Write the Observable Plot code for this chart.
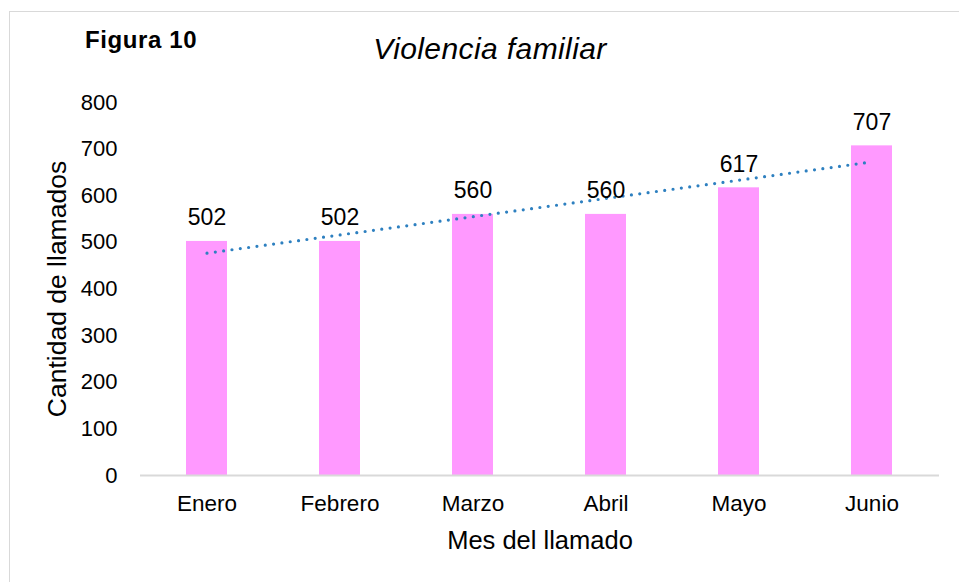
<!DOCTYPE html>
<html>
<head>
<meta charset="utf-8">
<script src="https://cdn.jsdelivr.net/npm/d3@7"></script>
<script src="https://cdn.jsdelivr.net/npm/@observablehq/plot@0.6"></script>
<style>
  html, body { margin: 0; padding: 0; background: #fff; overflow: hidden; }
  #wrap { position: relative; width: 959px; height: 582px; font-family: "Liberation Sans", Arial, sans-serif; }
  #frame { position: absolute; left: 9px; top: 11px; width: 1000px; height: 1000px; border: 1.5px solid #d9d9d9; box-sizing: border-box; }
  #fig { position: absolute; left: 85px; top: 26px; font-weight: bold; font-size: 24px; color: #000; letter-spacing: 0.6px; }
  #title { position: absolute; left: 290px; width: 400px; text-align: center; top: 32px; font-style: italic; font-size: 30px; color: #000; letter-spacing: 0.4px; }
  #chart { position: absolute; left: 0; top: 0; }
</style>
</head>
<body>
<div id="wrap">
  <div id="frame"></div>
  <div id="chart"></div>
  <div id="fig">Figura 10</div>
  <div id="title">Violencia familiar</div>
</div>
<script>
const months = ["Enero", "Febrero", "Marzo", "Abril", "Mayo", "Junio"];
const calls = [502, 502, 560, 560, 617, 707];
const yTicks = [0, 100, 200, 300, 400, 500, 600, 700, 800];

const data = months.map((m, i) => ({month: m, value: calls[i], idx: i}));

// Linear trendline (least squares over month index), as in the spreadsheet trendline
const n = calls.length;
const mx = d3.mean(data, d => d.idx);
const my = d3.mean(calls);
const slope = d3.sum(data, d => (d.idx - mx) * (d.value - my)) / d3.sum(data, d => (d.idx - mx) ** 2);
const intercept = my - slope * mx;
const trend = [data[0], data[n - 1]].map(d => ({month: d.month, value: intercept + slope * d.idx}));

const chart = Plot.plot({
  width: 959,
  height: 582,
  marginLeft: 140,
  marginRight: 20,
  marginTop: 102,
  marginBottom: 107,
  style: {fontFamily: "'Liberation Sans', Arial, sans-serif", background: "transparent", color: "#000"},
  x: {domain: months, paddingInner: 0.69, paddingOuter: 0.345, label: "Mes del llamado"},
  y: {domain: [0, 800], ticks: yTicks, label: "Cantidad de llamados"},
  marks: [
    Plot.barY(data, {x: "month", y: "value", fill: "#ff99ff"}),
    Plot.ruleY([0], {stroke: "#d9d9d9", strokeWidth: 2}),
    Plot.line(trend, {x: "month", y: "value", stroke: "#2e80c0", strokeWidth: 3.2, strokeDasharray: "0 8.4", strokeLinecap: "round"}),
    Plot.text(data, {x: "month", y: "value", text: d => String(d.value), lineAnchor: "bottom", dy: -16, fontSize: 23, fill: "#000"}),
    Plot.axisX({tickSize: 0, tickPadding: 20, fontSize: 22.5, label: "Mes del llamado", labelAnchor: "center", labelOffset: 73, labelArrow: "none"}),
    Plot.axisY({ticks: yTicks, tickSize: 0, tickPadding: 23, fontSize: 22, label: "Cantidad de llamados", labelAnchor: "center", labelOffset: 93, labelArrow: "none"})
  ]
});
chart.querySelectorAll("g[aria-label='x-axis label'] text").forEach(t => t.setAttribute("font-size", 25.5));
chart.querySelectorAll("g[aria-label='y-axis label'] text").forEach(t => t.setAttribute("font-size", 26.5));
document.getElementById("chart").appendChild(chart);
</script>
</body>
</html>
